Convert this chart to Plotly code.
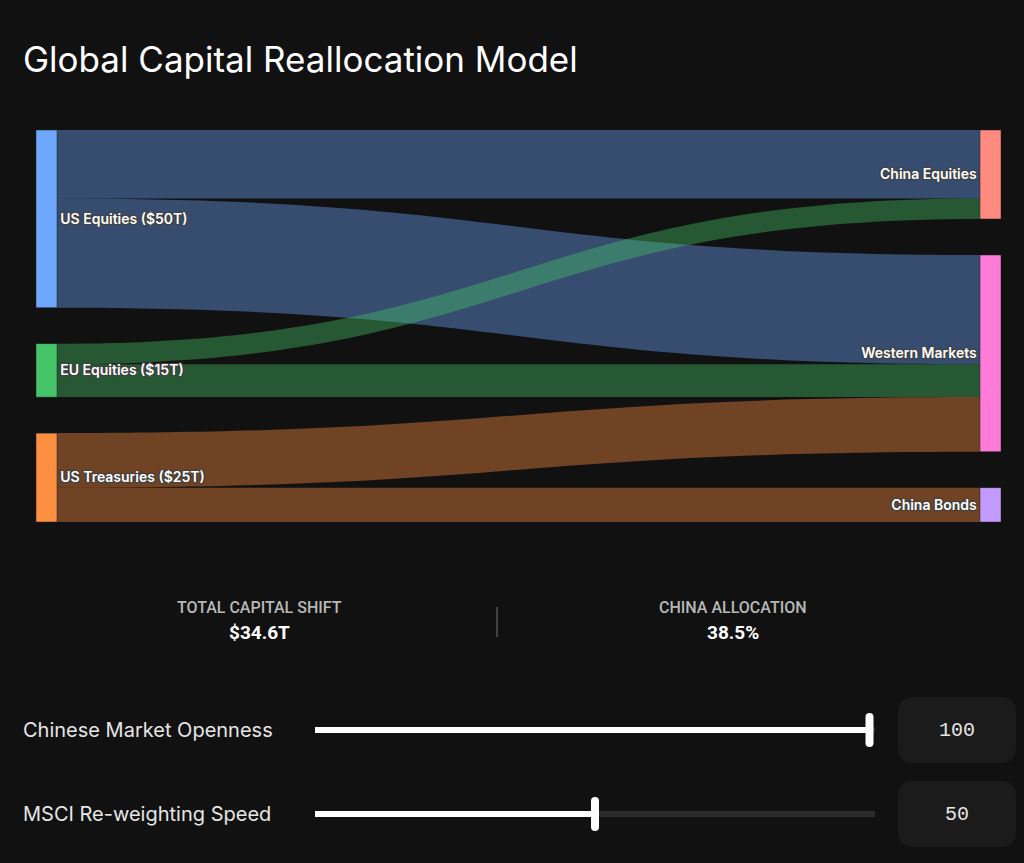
import plotly.graph_objects as go

# ---------------------------------------------------------------------------
# DATA
# ---------------------------------------------------------------------------
NODE_LABELS = [
    "US Equities ($50T)",
    "EU Equities ($15T)",
    "US Treasuries ($25T)",
    "China Equities",
    "Western Markets",
    "China Bonds",
]
NODE_COLORS = ["#6ea8fe", "#45c46a", "#fd8f40", "#ff8a80", "#ff7bd8", "#c39bff"]

LINK_SOURCE = [0, 0, 1, 1, 2, 2]
LINK_TARGET = [3, 4, 3, 4, 4, 5]
LINK_VALUE = [19.25, 30.75, 5.78, 9.22, 15.38, 9.62]

KPI_LABELS = ["TOTAL CAPITAL SHIFT", "CHINA ALLOCATION"]
KPI_VALUES = ["$34.6T", "38.5%"]

SLIDER_LABELS = ["Chinese Market Openness", "MSCI Re-weighting Speed"]
SLIDER_VALUES = [100, 50]
SLIDER_MAX = 100

# ---------------------------------------------------------------------------
# LAYOUT CONSTANTS (pixels)
# ---------------------------------------------------------------------------
W, H = 1024, 863
BG = "#111111"
FONT = "Inter, Roboto, sans-serif"
TRACK_X0, TRACK_X1 = 315, 875


def px(x):
    return x / W


def py(y):
    return 1 - y / H


def hex_rgba(h, a):
    h = h.lstrip("#")
    r, g, b = int(h[0:2], 16), int(h[2:4], 16), int(h[4:6], 16)
    return f"rgba({r},{g},{b},{a})"


def round_rect(x0, y0, x1, y1, r):
    # rounded rect path in paper coordinates from pixel box
    pts = [
        f"M {px(x0 + r)} {py(y0)}",
        f"L {px(x1 - r)} {py(y0)}",
        f"Q {px(x1)} {py(y0)} {px(x1)} {py(y0 + r)}",
        f"L {px(x1)} {py(y1 - r)}",
        f"Q {px(x1)} {py(y1)} {px(x1 - r)} {py(y1)}",
        f"L {px(x0 + r)} {py(y1)}",
        f"Q {px(x0)} {py(y1)} {px(x0)} {py(y1 - r)}",
        f"L {px(x0)} {py(y0 + r)}",
        f"Q {px(x0)} {py(y0)} {px(x0 + r)} {py(y0)}",
        "Z",
    ]
    return " ".join(pts)


link_colors = [hex_rgba(NODE_COLORS[s], 0.4) for s in LINK_SOURCE]

fig = go.Figure()

fig.add_trace(
    go.Sankey(
        domain=dict(x=[px(36), px(1001)], y=[py(522), py(130)]),
        node=dict(
            label=NODE_LABELS,
            color=NODE_COLORS,
            pad=36,
            thickness=21,
            line=dict(color="#222222", width=0.5),
            hoverinfo="none",
        ),
        link=dict(
            source=LINK_SOURCE,
            target=LINK_TARGET,
            value=LINK_VALUE,
            color=link_colors,
            hoverinfo="none",
        ),
        textfont=dict(family=FONT, size=14, color="#ffffff", weight=600),
    )
)

# invisible trace so the slider axis exists
fig.add_trace(
    go.Scatter(
        x=SLIDER_VALUES,
        y=[0.5, 0.5],
        mode="markers",
        marker=dict(opacity=0),
        hoverinfo="skip",
        showlegend=False,
    )
)

shapes = []
annotations = []

# title
annotations.append(
    dict(
        text="Global Capital Reallocation Model",
        x=px(21), y=py(59), xref="paper", yref="paper",
        xanchor="left", yanchor="middle", showarrow=False,
        font=dict(family=FONT, size=35, color="#ffffff"),
    )
)

# KPI block
kpi_x = [259, 733]
for lab, val, cx in zip(KPI_LABELS, KPI_VALUES, kpi_x):
    annotations.append(
        dict(
            text=lab, x=px(cx), y=py(607), xref="paper", yref="paper",
            xanchor="center", yanchor="middle", showarrow=False,
            font=dict(family="Roboto, sans-serif", size=16, color="#b8b8b8", weight=500),
        )
    )
    annotations.append(
        dict(
            text=f"<b>{val}</b>", x=px(cx), y=py(632), xref="paper", yref="paper",
            xanchor="center", yanchor="middle", showarrow=False,
            font=dict(family="Roboto, sans-serif", size=19, color="#ffffff"),
        )
    )
shapes.append(
    dict(type="line", xref="paper", yref="paper",
         x0=px(497), x1=px(497), y0=py(607), y1=py(637),
         line=dict(color="#777777", width=1))
)

# sliders
slider_y = [730, 814]
for lab, val, yc in zip(SLIDER_LABELS, SLIDER_VALUES, slider_y):
    annotations.append(
        dict(
            text=lab, x=px(21), y=py(yc), xref="paper", yref="paper",
            xanchor="left", yanchor="middle", showarrow=False,
            font=dict(family=FONT, size=20, color="#e6e6e6"),
        )
    )
    # track background
    shapes.append(
        dict(type="rect", xref="x", yref="paper", layer="below",
             x0=-1, x1=SLIDER_MAX + 1, y0=py(yc + 3), y1=py(yc - 3),
             fillcolor="#2b2b2b", line=dict(width=0))
    )
    # filled part
    shapes.append(
        dict(type="rect", xref="x", yref="paper",
             x0=-1, x1=val, y0=py(yc + 3), y1=py(yc - 3),
             fillcolor="#ffffff", line=dict(width=0))
    )
    # thumb
    tx = TRACK_X0 + (TRACK_X1 - TRACK_X0) * (val + 1) / (SLIDER_MAX + 2)
    shapes.append(
        dict(type="path", xref="paper", yref="paper",
             path=round_rect(tx - 4, yc - 17, tx + 4, yc + 17, 4),
             fillcolor="#ffffff", line=dict(width=0))
    )
    # value box
    shapes.append(
        dict(type="path", xref="paper", yref="paper", layer="below",
             path=round_rect(898, yc - 33, 1016, yc + 33, 16),
             fillcolor="#1b1b1b", line=dict(width=0))
    )
    annotations.append(
        dict(
            text=str(val), x=px(957), y=py(yc), xref="paper", yref="paper",
            xanchor="center", yanchor="middle", showarrow=False,
            font=dict(family="Liberation Mono, DejaVu Sans Mono, monospace", size=20, color="#e6e6e6"),
        )
    )

fig.update_layout(
    width=W,
    height=H,
    margin=dict(l=0, r=0, t=0, b=0),
    paper_bgcolor=BG,
    plot_bgcolor="rgba(0,0,0,0)",
    font=dict(family=FONT, color="#ffffff"),
    showlegend=False,
    xaxis=dict(domain=[px(TRACK_X0), px(TRACK_X1)], range=[-1, SLIDER_MAX + 1],
               visible=False, fixedrange=True),
    yaxis=dict(domain=[0, 0.05], range=[0, 1], visible=False, fixedrange=True),
    shapes=shapes,
    annotations=annotations,
)

fig.write_html(
    "out.html",
    config={"displayModeBar": False},
    post_script="document.body.style.margin='0';document.body.style.background='#111111';",
)
